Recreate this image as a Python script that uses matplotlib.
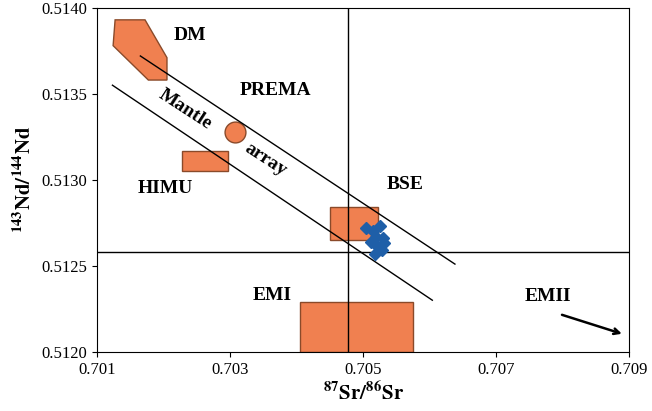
import matplotlib.pyplot as plt
from matplotlib.patches import Polygon, Rectangle

plt.rcParams['font.family'] = ['Liberation Serif']
plt.rcParams['mathtext.fontset'] = 'stix'

# reservoir fields
dm_x = [0.70127, 0.70172, 0.70205, 0.70205, 0.70177, 0.70124]
dm_y = [0.51393, 0.51393, 0.51371, 0.51358, 0.51358, 0.51378]
himu = (0.70228, 0.51305, 0.00069, 0.00012)
bse = (0.70450, 0.51265, 0.00073, 0.00019)
emi = (0.70405, 0.51200, 0.00170, 0.00029)
prema = (0.70308, 0.51328)
# mantle array bounds
upper_x, upper_y = [0.70165, 0.70638], [0.51372, 0.51251]
lower_x, lower_y = [0.70123, 0.70604], [0.51355, 0.51230]
# samples
sr = [0.70505, 0.70515, 0.70525, 0.70520, 0.70512, 0.70530, 0.70522, 0.70528, 0.70518, 0.70532]
nd = [0.51272, 0.51270, 0.51273, 0.51267, 0.51264, 0.51266, 0.51261, 0.51259, 0.51257, 0.51263]

orange = '#F08050'
edge = '#8a4a2a'

fig = plt.figure(figsize=(6.52, 4.11), dpi=100)
ax = fig.add_axes([0.149, 0.144, 0.816, 0.837])

ax.add_patch(Polygon(list(zip(dm_x, dm_y)), fc=orange, ec=edge, lw=1))
for r in (himu, bse, emi):
    ax.add_patch(Rectangle((r[0], r[1]), r[2], r[3], fc=orange, ec=edge, lw=1))
ax.plot(*prema, 'o', ms=15, mfc=orange, mec=edge)

ax.plot(upper_x, upper_y, color='black', lw=1)
ax.plot(lower_x, lower_y, color='black', lw=1)
ax.axvline(0.70477, color='black', lw=1)
ax.axhline(0.51258, color='black', lw=1)
ax.plot(sr, nd, 'D', color='#1f5fa8', ms=6)

fb = dict(fontsize=14, fontweight='bold', ha='center', va='center')
ax.text(0.70240, 0.51384, 'DM', **fb)
ax.text(0.70368, 0.51352, 'PREMA', **fb)
ax.text(0.70202, 0.51295, 'HIMU', **fb)
ax.text(0.70563, 0.51297, 'BSE', **fb)
ax.text(0.70363, 0.51233, 'EMI', **fb)
ax.text(0.70778, 0.51232, 'EMII', **fb)
ax.text(0.70232, 0.51341, 'Mantle', rotation=-33, **fb)
ax.text(0.70353, 0.51312, 'array', rotation=-33, **fb)
ax.annotate('', xy=(0.70893, 0.51210), xytext=(0.70795, 0.51222),
            arrowprops=dict(arrowstyle='->', lw=1.8, color='black'))

ax.set_xlim(0.701, 0.709)
ax.set_ylim(0.5120, 0.5140)
ax.set_xticks([0.701, 0.703, 0.705, 0.707, 0.709])
ax.set_yticks([0.5120, 0.5125, 0.5130, 0.5135, 0.5140])
ax.set_xticklabels(['0.701', '0.703', '0.705', '0.707', '0.709'])
ax.set_yticklabels(['0.5120', '0.5125', '0.5130', '0.5135', '0.5140'])
ax.tick_params(labelsize=12)
ax.set_xlabel(r'$\mathbf{^{87}Sr/^{86}Sr}$', fontsize=15)
ax.set_ylabel(r'$\mathbf{^{143}Nd/^{144}Nd}$', fontsize=15)

fig.savefig('out.png')
